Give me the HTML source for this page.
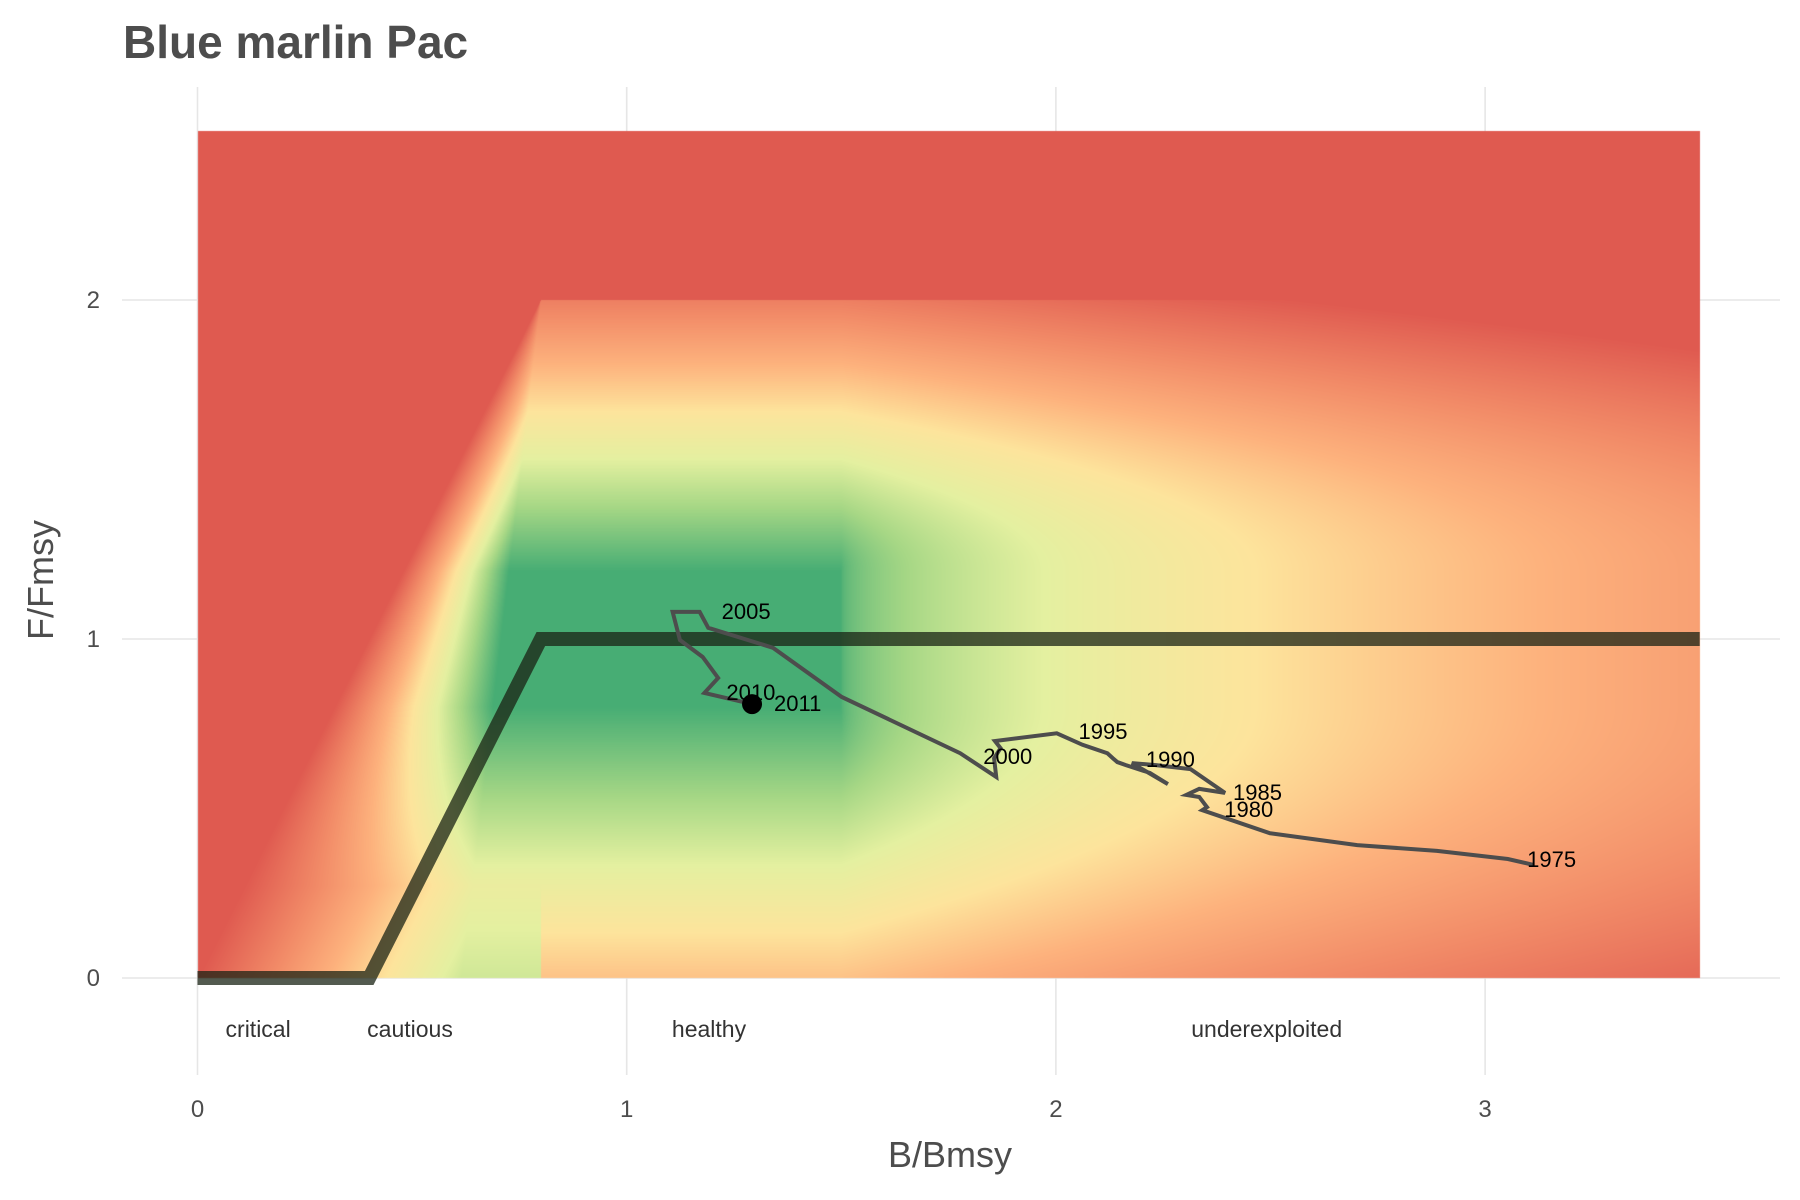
<!DOCTYPE html>
<html><head><meta charset="utf-8"><style>
html,body{margin:0;padding:0;background:#fff;}
#wrap{position:relative;width:1800px;height:1200px;overflow:hidden;font-family:"Liberation Sans",sans-serif;}
#heat{position:absolute;left:0;top:0;}
svg{position:absolute;left:0;top:0;}
</style></head><body>
<div id="wrap">
<svg id="grid" width="1800" height="1200"></svg>
<canvas id="heat" width="1800" height="1200"></canvas>
<svg id="fg" width="1800" height="1200"></svg>
</div>
<script>
const years=[1975,1976,1977,1978,1979,1980,1981,1982,1983,1984,1985,1986,1987,1988,1989,1990,1991,1992,1993,1994,1995,1996,1997,1998,1999,2000,2001,2002,2003,2004,2005,2006,2007,2008,2009,2010,2011];
const bRatio=[3.112,3.053,2.888,2.702,2.499,2.341,2.352,2.334,2.304,2.334,2.394,2.314,2.233,2.177,2.261,2.219,2.163,2.143,2.133,2.120,2.062,2.002,1.858,1.871,1.856,1.861,1.777,1.501,1.341,1.190,1.170,1.107,1.124,1.177,1.213,1.181,1.292];
const fRatio=[0.334,0.351,0.375,0.392,0.427,0.495,0.504,0.534,0.540,0.558,0.546,0.616,0.628,0.634,0.572,0.605,0.628,0.637,0.648,0.663,0.688,0.722,0.699,0.678,0.648,0.593,0.663,0.829,0.974,1.033,1.080,1.080,0.997,0.947,0.885,0.841,0.808];
const labelYears=[1975,1980,1985,1990,1995,2000,2005,2010,2011];
const xTicks=[0,1,2,3];
const yTicks=[0,1,2];
const hcrB=[0,0.4,0.8,3.5];
const hcrF=[0,0,1,1];
const zoneNames=["critical","cautious","healthy","underexploited"];
const zoneB=[0.07,0.4,1.11,2.32];

const X=b=>197.5+b*429.2;
const Y=f=>978-f*339;
const NS="http://www.w3.org/2000/svg";
function mk(parent,tag,attrs){const e=document.createElementNS(NS,tag);for(const k in attrs)e.setAttribute(k,attrs[k]);parent.appendChild(e);return e;}

const g=document.getElementById('grid');
xTicks.forEach(t=>{const l=mk(g,'line',{x1:X(t),x2:X(t),y1:87,y2:1075,stroke:'#e6e6e6','stroke-width':1.6});

});
yTicks.forEach(t=>{const l=mk(g,'line',{x1:122,x2:1780,y1:Y(t),y2:Y(t),stroke:'#e6e6e6','stroke-width':1.6});

});

const stops=[[0,[223,90,80]],[0.2,[242,140,104]],[0.35,[253,178,125]],[0.5,[253,228,156]],[0.65,[228,240,160]],[0.8,[166,215,133]],[1,[71,173,116]]];
function col(s){s=Math.max(0,Math.min(1,s));for(let i=1;i<stops.length;i++){if(s<=stops[i][0]){const a=stops[i-1],b=stops[i];const t=(s-a[0])/(b[0]-a[0]);return [0,1,2].map(k=>a[1][k]+(b[1][k]-a[1][k])*t);}}return stops[stops.length-1][1];}
function sR(B,F){const u=Math.max(0,B-1.5)/2;const dh=0.72*Math.sqrt(u);let dv=0;
 if(F>1.2)dv=(F-1.2)/0.8*0.85;else if(F<0.8)dv=(0.8-F)/0.8*0.6;return 1-Math.sqrt(dh*dh+dv*dv);}
function score(B,F){if(F>2)return 0;if(B>=0.8)return sR(B,F);const bl=F/2.5;if(B<bl)return 0;const w=(B-bl)/(0.8-bl);
 return Math.min(1,w*1.3)*Math.max(sR(0.8,F),0.7*(1-F/2));}
const cv=document.getElementById('heat');const ctx=cv.getContext('2d');
const x0=Math.round(X(0)),x1=Math.round(X(3.5)),y0=Math.round(Y(2.5)),y1=Math.round(Y(0));
const img=ctx.createImageData(x1-x0,y1-y0);
for(let py=0;py<y1-y0;py++){const F=(978-(y0+py+0.5))/339;for(let px=0;px<x1-x0;px++){const B=(x0+px+0.5-197.5)/429.2;const c=col(score(B,F));const i=(py*(x1-x0)+px)*4;img.data[i]=c[0];img.data[i+1]=c[1];img.data[i+2]=c[2];img.data[i+3]=255;}}
ctx.putImageData(img,x0,y0);

const fg=document.getElementById('fg');
const title=mk(fg,'text',{x:123,y:58,'font-size':46,'font-weight':'bold',fill:'#4d4d4d'});title.textContent='Blue marlin Pac';



const hcr=mk(fg,'polyline',{points:hcrB.map((b,i)=>X(b)+','+Y(hcrF[i])).join(' '),fill:'none',stroke:'rgba(25,35,20,0.75)','stroke-width':14,'stroke-linejoin':'miter'});



const traj=mk(fg,'polyline',{points:bRatio.map((b,i)=>X(b)+','+Y(fRatio[i])).join(' '),fill:'none',stroke:'#4d4d4d','stroke-width':4,'stroke-linejoin':'miter'});



labelYears.forEach(yr=>{const i=years.indexOf(yr);let dx=22,dy=7;
 if(yr===1975){dx=-6;dy=2;}else if(yr===1985){dx=8;}else if(yr===1990||yr===1995){dx=-4;dy=-6;}else if(yr===2000){dx=-13;dy=-13;}
 const t=mk(fg,'text',{x:X(bRatio[i])+dx,y:Y(fRatio[i])+dy,'font-size':22,fill:'#000'});t.textContent=String(yr);

});

const last=years.length-1;
const dot=mk(fg,'circle',{cx:X(bRatio[last]),cy:Y(fRatio[last]),r:10,fill:'#000'});



zoneNames.forEach((z,i)=>{const t=mk(fg,'text',{x:X(zoneB[i])-2,y:1037,'font-size':23,fill:'#333'});t.textContent=z;

});

xTicks.forEach(v=>{const t=mk(fg,'text',{x:X(v),y:1117,'font-size':24,fill:'#4d4d4d','text-anchor':'middle'});t.textContent=String(v);

});
yTicks.forEach(v=>{const t=mk(fg,'text',{x:100,y:Y(v)+8,'font-size':24,fill:'#4d4d4d','text-anchor':'end'});t.textContent=String(v);

});

const xt=mk(fg,'text',{x:950,y:1167,'font-size':36,fill:'#4d4d4d','text-anchor':'middle'});xt.textContent='B/Bmsy';


const yt=mk(fg,'text',{x:0,y:0,'font-size':36,fill:'#4d4d4d','text-anchor':'middle',transform:'translate(53,580) rotate(-90)'});yt.textContent='F/Fmsy';


</script>
</body></html>
